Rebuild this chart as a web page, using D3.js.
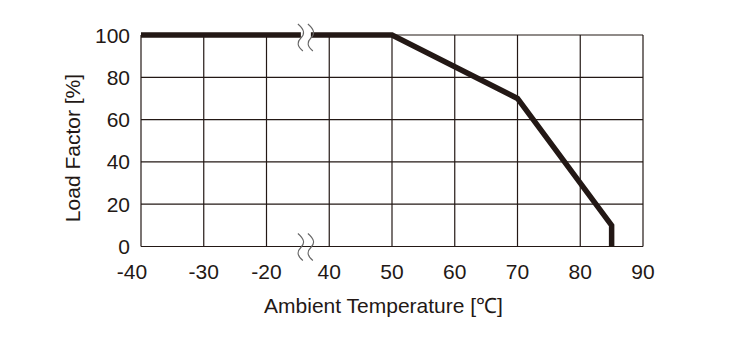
<!DOCTYPE html>
<html><head><meta charset="utf-8">
<script src="https://cdn.jsdelivr.net/npm/d3@7"></script>
<style>body{margin:0;background:#fff}svg{display:block}text{font-family:"Liberation Sans",Arial,sans-serif;fill:#231815}</style>
</head><body>
<svg id="c" width="740" height="350"></svg>
<script>
const xTicks = [-40, -30, -20, 40, 50, 60, 70, 80, 90];
const yTicks = [0, 20, 40, 60, 80, 100];
const curveTemp = [-40, 50, 70, 85, 85];
const curveLoad = [100, 100, 70, 10, 0];
const xTitle = "Ambient Temperature [℃]";
const yTitle = "Load Factor [%]";

const svg = d3.select("#c");
const L = 141, step = 62.75, T = 35, B = 246.5;
const x = d3.scaleLinear().domain([-40, -20, 40, 90]).range([L, L + 2*step, L + 3*step, L + 8*step]);
const y = d3.scaleLinear().domain([0, 100]).range([B, T]);
const ink = "#231815";

// grid
const g = svg.append("g");
g.selectAll("line.v").data(xTicks).enter().append("line")
  .attr("x1", d => x(d)).attr("x2", d => x(d)).attr("y1", T).attr("y2", B)
  .attr("stroke", ink).attr("stroke-width", 1.2);
g.selectAll("line.h").data(yTicks).enter().append("line")
  .attr("x1", x(-40)).attr("x2", x(90)).attr("y1", d => y(d)).attr("y2", d => y(d))
  .attr("stroke", ink).attr("stroke-width", 1.2);

// curve
const pts = curveTemp.map((t, i) => [t, curveLoad[i]]);
svg.append("path").datum(pts)
  .attr("d", d3.line().x(d => x(d[0])).y(d => y(d[1])))
  .attr("fill", "none").attr("stroke", ink).attr("stroke-width", 5.5)
  .attr("stroke-linejoin", "miter");

// axis break marks
const bx = (x(-20) + x(40)) / 2 + 10;
function squiggle(cx, cy) {
  return `M${cx-3},${cy-13} C${cx+4},${cy-7} ${cx+4},${cy-3} ${cx},${cy+1} C${cx-4},${cy+5} ${cx-4},${cy+9} ${cx+2},${cy+14}`;
}
svg.append("rect").attr("x", bx - 7).attr("y", y(100) - 5).attr("width", 10).attr("height", 10).attr("fill", "#fff");
[y(100) + 2, y(0)].forEach(cy => {
  [bx - 7, bx + 3].forEach(cx => {
    svg.append("path").attr("d", squiggle(cx, cy)).attr("fill", "none")
      .attr("stroke", "#666").attr("stroke-width", 1.1);
  });
});

// tick labels
svg.selectAll("text.xt").data(xTicks).enter().append("text")
  .attr("x", d => x(d)).attr("dx", (d, i) => i === 0 ? -9 : 0).attr("y", 278.5).attr("text-anchor", "middle")
  .attr("font-size", 21).text(d => d);
svg.selectAll("text.yt").data(yTicks).enter().append("text")
  .attr("x", 130).attr("y", d => y(d) + 7.5).attr("text-anchor", "end")
  .attr("font-size", 21).text(d => d);

// titles
svg.append("text").attr("x", 383.5).attr("y", 313).attr("text-anchor", "middle")
  .attr("font-size", 21).text(xTitle);
svg.append("text").attr("transform", "translate(80,148) rotate(-90)").attr("text-anchor", "middle")
  .attr("font-size", 21).text(yTitle);
</script>
</body></html>
